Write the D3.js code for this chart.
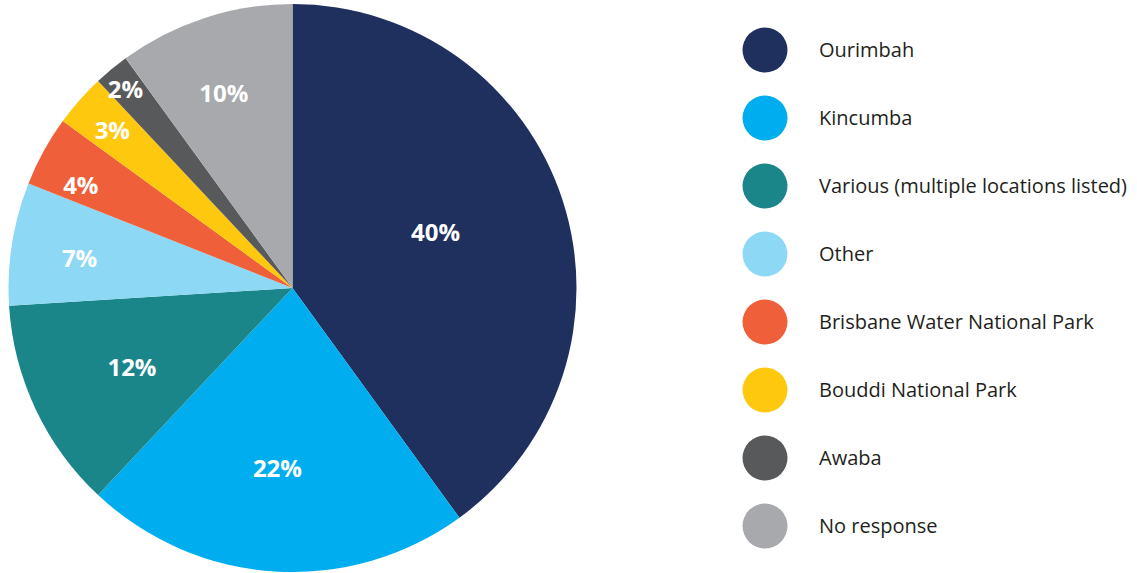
<!DOCTYPE html>
<html>
<head>
<meta charset="utf-8">
<script src="https://cdn.jsdelivr.net/npm/d3@7"></script>
<style>
  html, body { margin: 0; padding: 0; background: #ffffff; }
  svg { display: block; }
</style>
</head>
<body>
<svg id="chart" width="1137" height="573"></svg>
<script>
// Survey responses by location (percent of respondents)
const categories = [
  "Ourimbah",
  "Kincumba",
  "Various (multiple locations listed)",
  "Other",
  "Brisbane Water National Park",
  "Bouddi National Park",
  "Awaba",
  "No response"
];
const values = [40, 22, 12, 7, 4, 3, 2, 10];
const colors = ["#1f2f5e", "#00aeef", "#1a868a", "#8dd8f5", "#ef5f3a", "#fec80f", "#58595b", "#a7a9ac"];

// Label placement: distance from the centre (share of radius) and
// position across the slice (0 = start edge, 1 = end edge)
const labelRadius = [0.540, 0.636, 0.630, 0.757, 0.829, 0.843, 0.915, 0.726];
const labelAcross = [0.478, 0.515, 0.477, 0.456, 0.302, 0.48, 0.44, 0.46];

const svg = d3.select("#chart");
const cx = 292.5, cy = 288, r = 284;

const pie = d3.pie().value(d => d).sort(null);
const arcs = pie(values);
const arc = d3.arc().innerRadius(0).outerRadius(r);

const g = svg.append("g").attr("transform", `translate(${cx},${cy})`);

g.selectAll("path.slice")
  .data(arcs)
  .join("path")
  .attr("class", "slice")
  .attr("d", arc)
  .attr("fill", (d, i) => colors[i]);

g.selectAll("text.pct")
  .data(arcs)
  .join("text")
  .attr("class", "pct")
  .attr("transform", (d, i) => {
    const a = d.startAngle + labelAcross[i] * (d.endAngle - d.startAngle);
    const rr = labelRadius[i] * r;
    return `translate(${rr * Math.sin(a)},${-rr * Math.cos(a)})`;
  })
  .attr("text-anchor", "middle")
  .attr("dy", "0.36em")
  .attr("fill", "#ffffff")
  .attr("font-family", "'Open Sans', sans-serif")
  .attr("font-weight", 700)
  .attr("font-size", "24px")
  .text(d => `${d.data}%`);

// Legend
const legendY = d3.scalePoint().domain(categories).range([50, 526]);
const legend = svg.append("g");
const item = legend.selectAll("g.item")
  .data(categories)
  .join("g")
  .attr("class", "item")
  .attr("transform", d => `translate(0,${legendY(d)})`);

item.append("circle")
  .attr("cx", 765)
  .attr("cy", 0)
  .attr("r", 22.5)
  .attr("fill", (d, i) => colors[i]);

item.append("text")
  .attr("x", 819)
  .attr("dy", "0.35em")
  .attr("fill", "#231f20")
  .attr("font-family", "'Open Sans', sans-serif")
  .attr("font-size", "20px")
  .text(d => d);
</script>
</body>
</html>
